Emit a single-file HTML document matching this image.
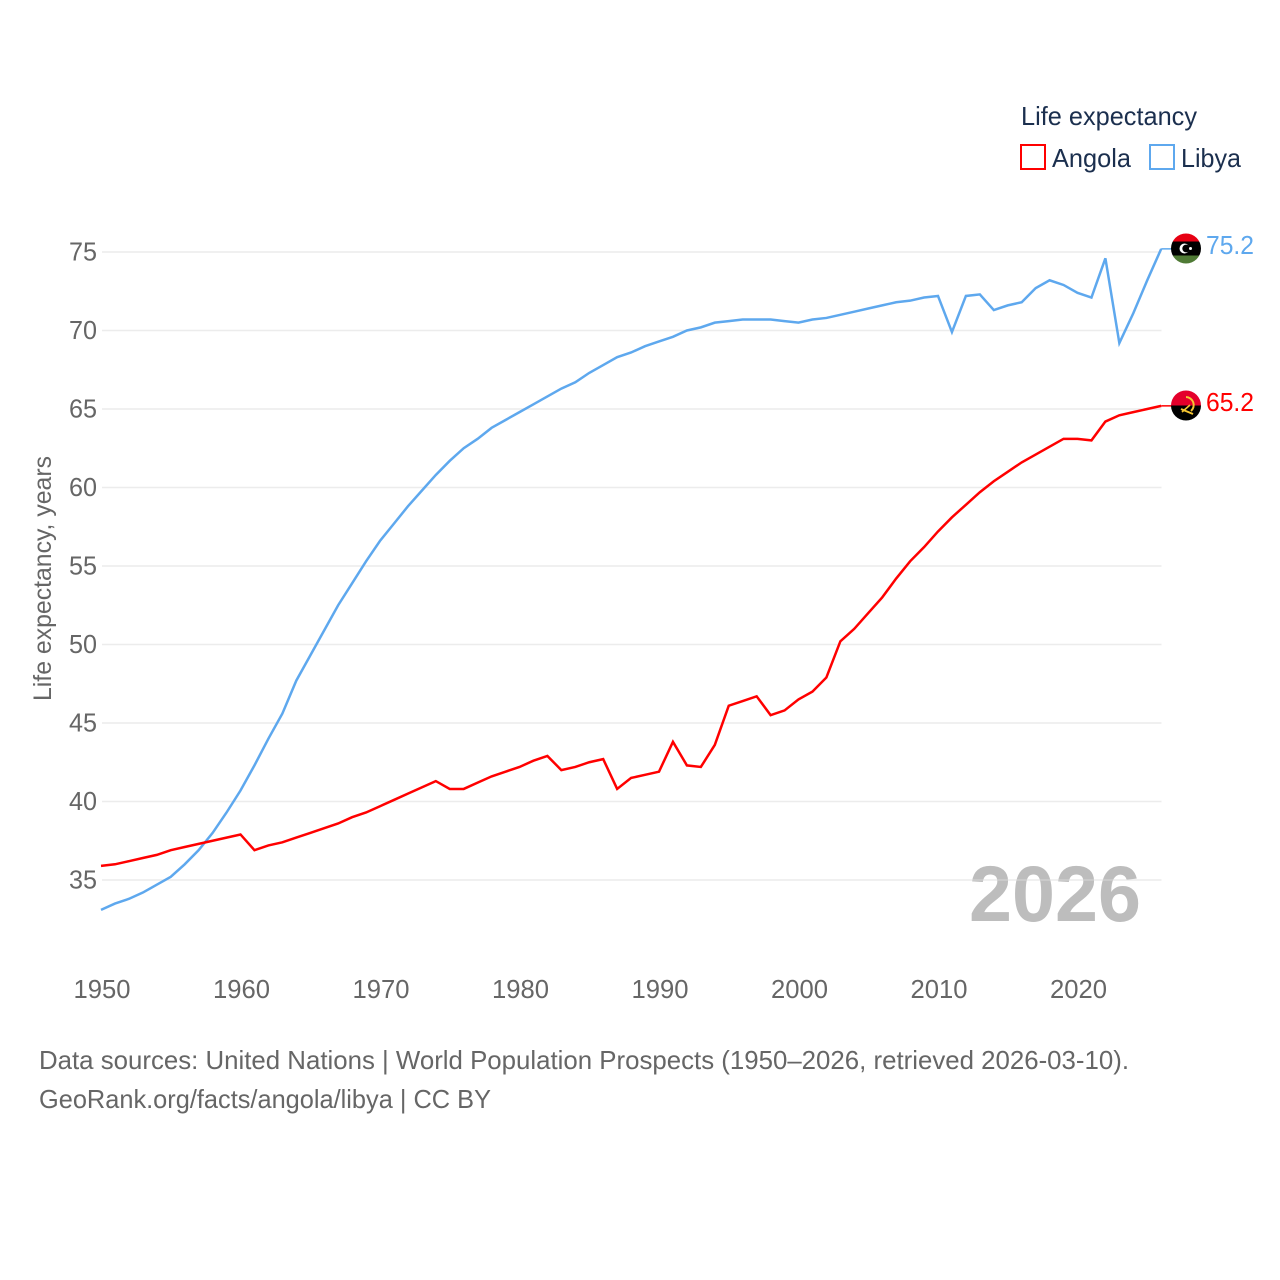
<!DOCTYPE html>
<html lang="en">
<head>
<meta charset="utf-8">
<title>Life expectancy: Angola and Libya</title>
<style>
html,body{margin:0;padding:0;background:#fff;width:1280px;height:1280px;overflow:hidden}
svg{display:block}
text{font-family:"Liberation Sans",sans-serif}
</style>
</head>
<body>
<svg id="chart" xmlns="http://www.w3.org/2000/svg" width="1280" height="1280" viewBox="0 0 1280 1280">
  <rect width="1280" height="1280" fill="#fff"/>
  <text x="969" y="921" font-size="79" font-weight="700" fill="#bdbdbd" textLength="172" lengthAdjust="spacingAndGlyphs">2026</text>
  <g id="grid"></g>
  <g id="yticks"></g>
  <g id="xticks"></g>
  <text transform="translate(51,701) rotate(-90)" font-size="25" fill="#666" textLength="245" lengthAdjust="spacingAndGlyphs">Life expectancy, years</text>
  <g id="series"></g>
  <g id="ends"></g>

  <g>
    <text x="1021" y="125" font-size="26" fill="#1b2f4e" textLength="176" lengthAdjust="spacingAndGlyphs">Life expectancy</text>
    <rect x="1021" y="145" width="24" height="24" fill="#fff" stroke="#ff0000" stroke-width="2"/>
    <text x="1052" y="167" font-size="26" fill="#1b2f4e" textLength="79" lengthAdjust="spacingAndGlyphs">Angola</text>
    <rect x="1150" y="145" width="24" height="24" fill="#fff" stroke="#5ea8ee" stroke-width="2"/>
    <text x="1181" y="167" font-size="26" fill="#1b2f4e" textLength="60" lengthAdjust="spacingAndGlyphs">Libya</text>
  </g>

  <defs>
    <clipPath id="flag-clip-libya"><circle cx="1186" cy="248.500" r="15"/></clipPath>
    <clipPath id="flag-clip-angola"><circle cx="1186" cy="405.500" r="15"/></clipPath>
  </defs>
  <g clip-path="url(#flag-clip-libya)">
    <rect x="1171" y="233" width="30" height="8.500" fill="#e70013"/>
    <rect x="1171" y="241.500" width="30" height="14" fill="#000"/>
    <rect x="1171" y="255.500" width="30" height="9" fill="#4f7a35"/>
    <circle cx="1184.500" cy="248.500" r="5" fill="#fff"/>
    <circle cx="1186.200" cy="248.500" r="3.900" fill="#000"/>
    <circle cx="1190.500" cy="248.500" r="1.500" fill="#fff"/>
  </g>
  <g clip-path="url(#flag-clip-angola)">
    <rect x="1171" y="390" width="30" height="15.500" fill="#e4002b"/>
    <rect x="1171" y="405.500" width="30" height="15.500" fill="#000"/>
    <path d="M1186 397 A8 8 0 0 1 1191 411" fill="none" stroke="#f6c632" stroke-width="2"/>
    <path d="M1181 409 L1193 414" fill="none" stroke="#f6c632" stroke-width="2"/>
    <path d="M1190 405 L1182 412" fill="none" stroke="#f6c632" stroke-width="1.600"/>
  </g>

  <g>
    <text x="39" y="1069" font-size="26" fill="#666" textLength="1090" lengthAdjust="spacingAndGlyphs">Data sources: United Nations | World Population Prospects (1950–2026, retrieved 2026-03-10).</text>
    <text x="39" y="1108" font-size="26" fill="#666" textLength="452" lengthAdjust="spacingAndGlyphs">GeoRank.org/facts/angola/libya | CC BY</text>
  </g>
</svg>
<script>
const firstYear = 1950;
const xTickLabels = [1950, 1960, 1970, 1980, 1990, 2000, 2010, 2020];
const yTickLabels = [35, 40, 45, 50, 55, 60, 65, 70, 75];
const angolaValues = [35.9,36.0,36.2,36.4,36.6,36.9,37.1,37.3,37.5,37.7,37.9,36.9,37.2,37.4,37.7,38.0,38.3,38.6,39.0,39.3,39.7,40.1,40.5,40.9,41.3,40.8,40.8,41.2,41.6,41.9,42.2,42.6,42.9,42.0,42.2,42.5,42.7,40.8,41.5,41.7,41.9,43.8,42.3,42.2,43.6,46.1,46.4,46.7,45.5,45.8,46.5,47.0,47.9,50.2,51.0,52.0,53.0,54.2,55.3,56.2,57.2,58.1,58.9,59.7,60.4,61.0,61.6,62.1,62.6,63.1,63.1,63.0,64.2,64.6,64.8,65.0,65.2];
const libyaValues = [33.1,33.5,33.8,34.2,34.7,35.2,36.0,36.9,38.0,39.3,40.7,42.3,44.0,45.6,47.7,49.3,50.9,52.5,53.9,55.3,56.6,57.7,58.8,59.8,60.8,61.7,62.5,63.1,63.8,64.3,64.8,65.3,65.8,66.3,66.7,67.3,67.8,68.3,68.6,69.0,69.3,69.6,70.0,70.2,70.5,70.6,70.7,70.7,70.7,70.6,70.5,70.7,70.8,71.0,71.2,71.4,71.6,71.8,71.9,72.1,72.2,69.9,72.2,72.3,71.3,71.6,71.8,72.7,73.2,72.9,72.4,72.1,74.6,69.2,71.1,73.2,75.2];

const NS = 'http://www.w3.org/2000/svg';
const xScale = function (year) { return 101 + (year - 1950) * 13.95; };
const yScale = function (v) { return 880 - (v - 35) * 15.7; };
const plotLeft = 102;
const plotRight = 1161.5;

function make(tag, parent, attrs, content) {
  const el = document.createElementNS(NS, tag);
  Object.keys(attrs).forEach(function (k) { el.setAttribute(k, attrs[k]); });
  if (content !== undefined) el.textContent = content;
  parent.appendChild(el);
  return el;
}

const gridG = document.getElementById('grid');
const yG = document.getElementById('yticks');
yTickLabels.forEach(function (v) {
  const line = make('line', gridG, { x1: plotLeft, x2: plotRight, y1: yScale(v), y2: yScale(v), stroke: '#dcdcdc', 'stroke-opacity': 0.55, 'stroke-width': 1.5 });
  
  
  const t = make('text', yG, { x: 97, y: yScale(v) + 8.5, 'text-anchor': 'end', 'font-size': 26, fill: '#666', textLength: 28, lengthAdjust: 'spacingAndGlyphs' }, String(v));
  
  
});

const xG = document.getElementById('xticks');
xTickLabels.forEach(function (year) {
  const t = make('text', xG, { x: xScale(year) - 27.5, y: 998, 'font-size': 26, fill: '#666', textLength: 57, lengthAdjust: 'spacingAndGlyphs' }, String(year));
  
  
});

function pointsFor(values) {
  return values.map(function (v, i) {
    return xScale(firstYear + i).toFixed(2) + ',' + yScale(v).toFixed(2);
  }).join(' ');
}

const seriesG = document.getElementById('series');
const endG = document.getElementById('ends');

const libyaLine = make('polyline', seriesG, { points: pointsFor(libyaValues), fill: 'none', stroke: '#5ea8ee', 'stroke-width': 2.5, 'stroke-linejoin': 'miter' });



const angolaLine = make('polyline', seriesG, { points: pointsFor(angolaValues), fill: 'none', stroke: '#ff0000', 'stroke-width': 2.5, 'stroke-linejoin': 'miter' });



const lastLibya = libyaValues[libyaValues.length - 1];
const lastAngola = angolaValues[angolaValues.length - 1];
const lastYear = firstYear + libyaValues.length - 1;

const libyaConnector = make('line', endG, { x1: xScale(lastYear), x2: 1172, y1: yScale(lastLibya), y2: yScale(lastLibya), stroke: '#5ea8ee', 'stroke-width': 1.5 });



const angolaConnector = make('line', endG, { x1: xScale(lastYear), x2: 1172, y1: yScale(lastAngola), y2: yScale(lastAngola), stroke: '#ff0000', 'stroke-width': 1.5 });



const libyaEnd = make('text', endG, { x: 1206, y: yScale(lastLibya) + 5, 'font-size': 26, fill: '#5ea8ee', textLength: 48, lengthAdjust: 'spacingAndGlyphs' }, lastLibya.toFixed(1));



const angolaEnd = make('text', endG, { x: 1206, y: yScale(lastAngola) + 5, 'font-size': 26, fill: '#ff0000', textLength: 48, lengthAdjust: 'spacingAndGlyphs' }, lastAngola.toFixed(1));


</script>
</body>
</html>
